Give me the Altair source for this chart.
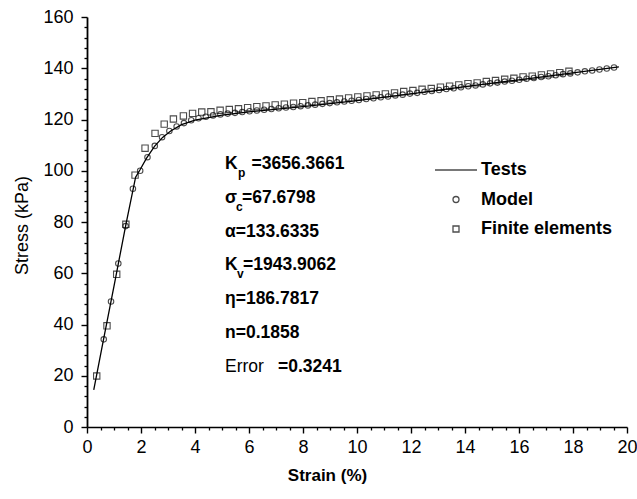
import altair as alt
import pandas as pd

FONT = "Liberation Sans"

# ---- data ----
test_strain = [0.25, 0.6, 1.0, 1.44, 1.8, 1.97, 2.2, 2.5, 2.8, 3.1, 3.5, 4.0, 5.0, 6.0, 8.0,
               10.0, 12.0, 14.0, 16.0, 18.0, 19.7]
test_stress = [14.5, 33.5, 55.0, 79.0, 97.5, 100.5, 104.8, 109.5, 113.0, 115.5, 118.0, 119.8,
               121.7, 123.0, 125.0, 127.4, 130.0, 132.8, 135.5, 138.2, 140.5]

model_strain = [0.62, 0.89, 1.16, 1.43, 1.70, 1.97, 2.24, 2.51, 2.78, 3.05, 3.32, 3.59, 3.86,
                4.13, 4.40, 4.67, 4.94, 5.21, 5.48, 5.75, 6.02, 6.29, 6.56, 6.83, 7.10, 7.37,
                7.64, 7.91, 8.18, 8.45, 8.72, 8.99, 9.26, 9.53, 9.80, 10.07, 10.34, 10.61,
                10.88, 11.15, 11.42, 11.69, 11.96, 12.23, 12.50, 12.77, 13.04, 13.31, 13.58,
                13.85, 14.12, 14.39, 14.66, 14.93, 15.20, 15.47, 15.74, 16.01, 16.28, 16.55,
                16.82, 17.09, 17.36, 17.63, 17.90, 18.17, 18.44, 18.71, 18.98, 19.25, 19.52]
model_stress = [34.2, 49.0, 63.8, 78.4, 93.0, 100.0, 105.3, 109.7, 113.1, 115.5, 117.3, 118.6,
                119.7, 120.5, 121.1, 121.6, 122.0, 122.3, 122.6, 122.9, 123.2, 123.5, 123.8,
                124.1, 124.4, 124.7, 124.9, 125.2, 125.5, 125.8, 126.1, 126.4, 126.7, 127.0,
                127.3, 127.6, 128.0, 128.3, 128.7, 129.0, 129.4, 129.7, 130.1, 130.4, 130.8,
                131.1, 131.5, 131.9, 132.2, 132.6, 133.0, 133.3, 133.7, 134.1, 134.4, 134.8,
                135.1, 135.5, 135.9, 136.2, 136.6, 136.9, 137.3, 137.7, 138.0, 138.4, 138.8,
                139.1, 139.5, 139.9, 140.3]

fe_strain = [0.36, 0.74, 1.10, 1.44, 1.78, 2.15, 2.52, 2.86, 3.20, 3.57, 3.91, 4.25, 4.59,
             4.93, 5.27, 5.61, 5.95, 6.29, 6.63, 6.97, 7.31, 7.65, 7.99, 8.33, 8.67, 9.01,
             9.35, 9.69, 10.03, 10.37, 10.71, 11.05, 11.39, 11.73, 12.07, 12.41, 12.75, 13.09,
             13.43, 13.77, 14.11, 14.45, 14.79, 15.13, 15.47, 15.81, 16.15, 16.49, 16.83,
             17.17, 17.51, 17.85]
fe_stress = [19.9, 39.5, 59.6, 79.1, 98.3, 108.8, 114.6, 118.2, 120.2, 121.4, 122.4, 122.9,
             123.0, 123.6, 123.9, 124.2, 124.6, 125.0, 125.3, 125.7, 126.0, 126.4, 126.6,
             127.0, 127.3, 127.7, 128.0, 128.4, 128.8, 129.2, 129.6, 130.0, 130.4, 130.9,
             131.3, 131.8, 132.1, 132.6, 133.0, 133.5, 134.0, 134.3, 134.8, 135.2, 135.7,
             136.1, 136.6, 136.9, 137.4, 137.8, 138.3, 138.8]

series_names = ["Tests", "Model", "Finite elements"]
x_major = [0, 2, 4, 6, 8, 10, 12, 14, 16, 18, 20]
y_major = [0, 20, 40, 60, 80, 100, 120, 140, 160]
x_minor = [i / 2 for i in range(41) if i % 4 != 0]
y_minor = [i * 4 for i in range(41) if i % 5 != 0]

param_lines = [
    ("K", "p", "=3656.3661"),
    ("σ", "c", "=67.6798"),
    ("α=133.6335", "", ""),
    ("K", "v", "=1943.9062"),
    ("η=186.7817", "", ""),
    ("n=0.1858", "", ""),
]
error_label = "Error"
error_value = "=0.3241"

# ---- frames ----
df_test = pd.DataFrame({"strain": test_strain, "stress": test_stress, "series": "Tests"})
df_model = pd.DataFrame({"strain": model_strain, "stress": model_stress, "series": "Model"})
df_fe = pd.DataFrame({"strain": fe_strain, "stress": fe_stress, "series": "Finite elements"})

xscale = alt.Scale(domain=[0, 20], nice=False, zero=False)
yscale = alt.Scale(domain=[0, 160], nice=False, zero=False)

xaxis = alt.Axis(
    orient="bottom", values=x_major, tickSize=6,
    grid=False, domainColor="black", domainWidth=1.5, tickColor="black", tickWidth=1.4,
    labelFont=FONT, labelFontSize=18, labelColor="black", labelPadding=5, labelFlush=False,
    titleFont=FONT, titleFontSize=17, titleFontWeight="bold", titleColor="black",
    titleX=240, titleY=48, titleBaseline="middle",
)
yaxis = alt.Axis(
    orient="left", values=y_major, tickSize=6,
    grid=False, domainColor="black", domainWidth=1.8, tickColor="black", tickWidth=1.4,
    labelFont=FONT, labelFontSize=18, labelColor="black", labelPadding=8, labelFlush=False,
    titleFont=FONT, titleFontSize=18, titleFontWeight="normal", titleColor="black",
    titleX=-65, titleY=208, titleAngle=270, titleBaseline="middle", titleAlign="center",
)
xaxis_minor = alt.Axis(
    orient="bottom", values=x_minor, tickSize=3, labels=False, domain=False, grid=False,
    tickColor="black", tickWidth=1.3, title=None,
)
yaxis_minor = alt.Axis(
    orient="left", values=y_minor, tickSize=3, labels=False, domain=False, grid=False,
    tickColor="black", tickWidth=1.3, title=None,
)

shape_scale = alt.Scale(domain=series_names, range=["M-7,0H7", "circle", "square"])
legend = alt.Legend(
    title=None, orient="none", legendX=360, legendY=144, padding=0,
    symbolSize=36, symbolStrokeColor="black", symbolFillColor="white", symbolStrokeWidth=1.3,
    labelFont=FONT, labelFontSize=18, labelFontWeight="bold", labelColor="black",
    labelOffset=16, rowPadding=11.5, symbolType="circle",
)

line = alt.Chart(df_test).mark_line(color="black", strokeWidth=1.3).encode(
    x=alt.X("strain:Q", scale=xscale, axis=xaxis, title="Strain (%)"),
    y=alt.Y("stress:Q", scale=yscale, axis=yaxis, title="Stress (kPa)"),
)
model = alt.Chart(df_model).mark_point(filled=False, color="black", size=30, strokeWidth=1.1).encode(
    x=alt.X("strain:Q", scale=xscale, axis=None),
    y=alt.Y("stress:Q", scale=yscale, axis=None),
    shape=alt.Shape("series:N", scale=shape_scale, legend=legend),
)
fe = alt.Chart(df_fe).mark_point(filled=False, color="black", size=40, strokeWidth=1.1).encode(
    x=alt.X("strain:Q", scale=xscale, axis=xaxis_minor),
    y=alt.Y("stress:Q", scale=yscale, axis=yaxis_minor),
    shape=alt.Shape("series:N", scale=shape_scale, legend=legend),
)


def txt(s, x, y, size=17.5, weight="bold"):
    return alt.Chart(pd.DataFrame({"t": [s]})).mark_text(
        align="left", baseline="alphabetic", font=FONT, fontSize=size,
        fontWeight=weight, color="black",
    ).encode(text="t:N", x=alt.value(x), y=alt.value(y))


ann = []
x0 = 138
base = [152, 186, 220, 253, 287, 321]
sub_x = {"p": 151, "c": 149, "v": 150}
rest_x = {"p": 164.5, "c": 155, "v": 156}
for (main, sub, rest), by in zip(param_lines, base):
    ann.append(txt(main, x0, by))
    if sub:
        ann.append(txt(sub, sub_x[sub], by + 8, size=12))
        ann.append(txt(rest, rest_x[sub], by))
ann.append(txt(error_label, x0, 355, weight="normal"))
ann.append(txt(error_value, 191, 355))

chart = alt.layer(line, model, fe, *ann).resolve_axis(
    x="independent", y="independent"
).properties(
    width=540, height=410,
    autosize=alt.AutoSizeParams(type="none"),
    padding={"left": 87, "top": 17, "right": 10, "bottom": 72},
    background="white",
).configure_view(stroke=None)

chart.save("out.html", embed_options={"renderer": "svg", "actions": False})
